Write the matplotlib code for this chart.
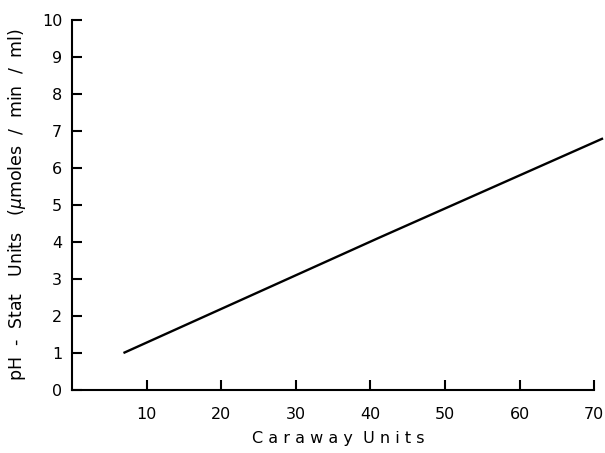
import matplotlib
matplotlib.use("Agg")
import matplotlib.pyplot as plt

# Data
caraway_units = [6.9, 41.0, 71.2]
phstat_units = [1.0, 4.1, 6.8]
x_ticks = [10, 20, 30, 40, 50, 60, 70]
y_ticks = [0, 1, 2, 3, 4, 5, 6, 7, 8, 9, 10]

plt.rcParams['font.family'] = ['DejaVu Sans']

fig = plt.figure(figsize=(6.05, 4.53), dpi=100)
ax = fig.add_axes([0.119, 0.139, 0.879, 0.817])

ax.plot(caraway_units, phstat_units, color='black', lw=1.7, clip_on=False,
        solid_capstyle='butt')

ax.set_xlim(0, 71.3)
ax.set_ylim(0, 10)
ax.set_xticks(x_ticks)
ax.set_yticks(y_ticks)
ax.set_xticklabels([str(v) for v in x_ticks])
ax.set_yticklabels([str(v) for v in y_ticks])

for s in ['top', 'right']:
    ax.spines[s].set_visible(False)
for s in ['left', 'bottom']:
    ax.spines[s].set_linewidth(1.5)
ax.spines['bottom'].set_bounds(0, 70)

ax.tick_params(axis='both', direction='in', length=7, width=1.5,
               labelsize=11.5, colors='black')
ax.tick_params(axis='y', pad=7)
ax.tick_params(axis='x', pad=12)

ax.set_xlabel('C a r a w a y  U n i t s', fontsize=11.5, labelpad=7)
ax.set_ylabel('pH  -  Stat   Units   ($\\mu$moles  /  min  /  ml)', fontsize=12.5,
              labelpad=10)

fig.savefig('out.png', dpi=100)
